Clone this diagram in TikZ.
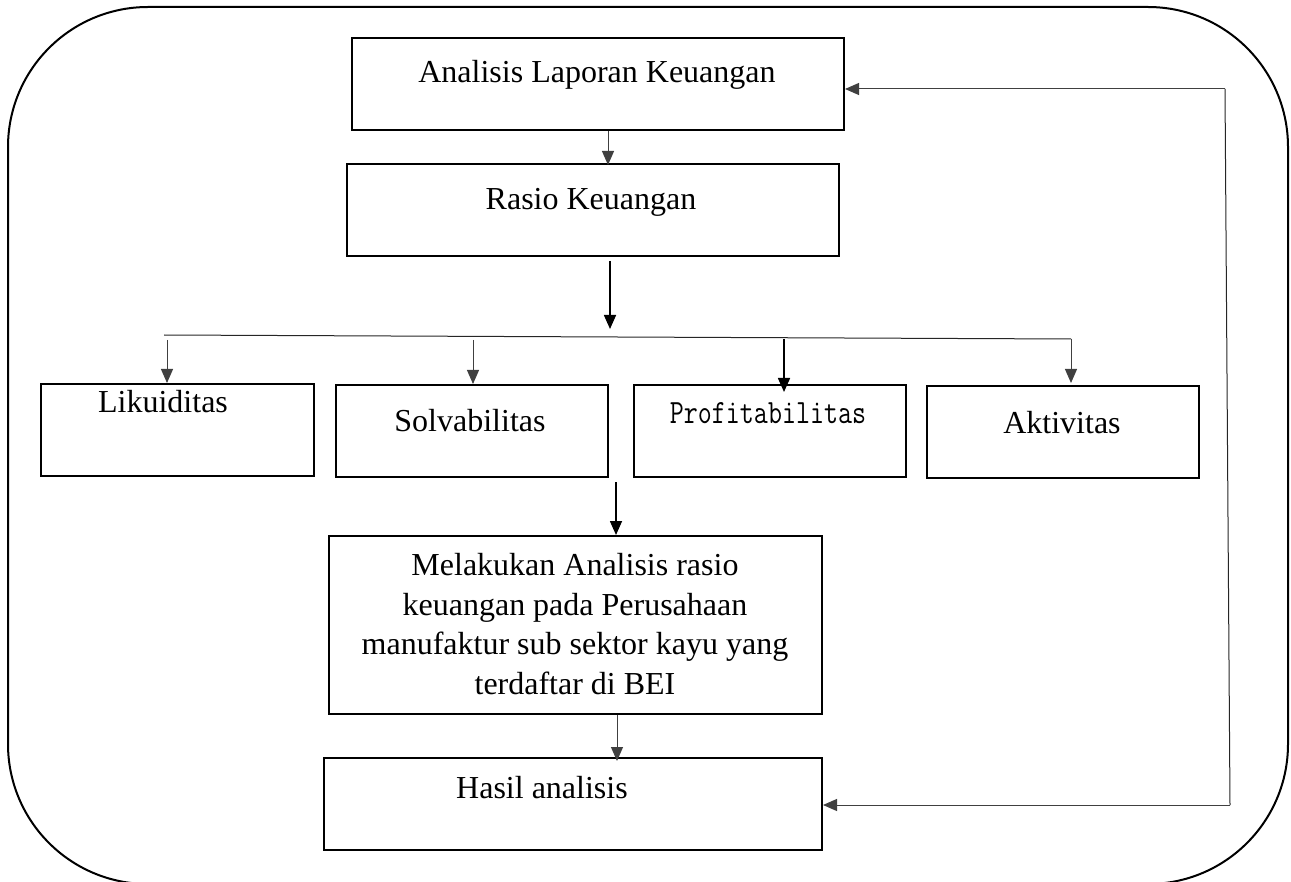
\documentclass[tikz,border=0pt]{standalone}
\usepackage{fontspec}
\usepackage{graphicx}
\setmainfont{Liberation Serif}
\usetikzlibrary{arrows.meta,calc}
\begin{document}
\begin{tikzpicture}[x=0.5pt,y=-0.5pt,
  box/.style={draw,line width=1pt,inner sep=0pt},
  txt/.style={anchor=base,inner sep=0pt,font=\fontsize{16pt}{19.7pt}\selectfont},
  arr/.style={-{Triangle[width=6pt,length=7pt]},line width=0.5pt,black!75},
  barr/.style={-{Triangle[width=6pt,length=7pt]},line width=0.8pt,black},
  thin line/.style={line width=0.5pt,black!85}]
\useasboundingbox (0,0) rectangle (1291,882);
\clip (0,0) rectangle (1291,882);
% outer frame
\draw[line width=1pt,rounded corners=70pt] (8,7) rectangle (1288,884);
% boxes
\node[box,minimum width=246pt,minimum height=46pt] (b1) at (598,84) {};
\node[box,minimum width=246pt,minimum height=46pt] (b2) at (593,210) {};
\node[box,minimum width=136.5pt,minimum height=46pt] (L) at (177.5,430) {};
\node[box,minimum width=136pt,minimum height=46pt] (S) at (472,431) {};
\node[box,minimum width=136pt,minimum height=46pt] (P) at (770,431) {};
\node[box,minimum width=136pt,minimum height=46pt] (A) at (1063,432) {};
\node[box,minimum width=246.5pt,minimum height=89pt] (M) at (575.5,625) {};
\node[box,minimum width=249pt,minimum height=46pt] (H) at (573,804) {};
% texts
\node[txt] (t1) at (597,83) {Analisis Laporan Keuangan};
\node[txt] (t2) at (591,210) {Rasio Keuangan};
\node[txt] (tL) at (163,413) {Likuiditas};
\node[txt] (tS) at (470,431) {Solvabilitas};
\node[txt] (tP) at (768,423) {\scalebox{1}[1.25]{\ttfamily\fontsize{13.6pt}{16pt}\selectfont Profitabilitas}};
\node[txt] (tA) at (1062,433) {Aktivitas};
\node[txt,anchor=center,align=center] (tM) at (575,624) {Melakukan Analisis rasio\\keuangan pada Perusahaan\\manufaktur sub sektor kayu yang\\terdaftar di BEI};
\node[txt] (tH) at (542,798) {Hasil analisis};
% coordinates
\coordinate (a1) at (608,0);
\coordinate (j0) at (610,261);
\coordinate (j1) at (610,329);
\coordinate (bl) at (164,335);
\coordinate (br) at (1071,339);
\coordinate (dL) at (167,340);
\coordinate (dS) at (473,340);
\coordinate (dP) at (784,339);
\coordinate (dA) at (1071,339);
\coordinate (m0) at (616,482);
\coordinate (mh) at (617,0);
\coordinate (fb1) at (1230,805);
\coordinate (fb2) at (1225,89);
% connectors
\draw[arr] (b1.south -| a1) -- ($(b2.north -| a1)+(0,2)$);
\draw[barr] (j0) -- (j1);
\draw[thin line] (bl) -- (br);
\draw[arr] (dL) -- (L.north -| dL);
\draw[arr] (dS) -- (S.north -| dS);
\draw[barr] (dP) -- ($(P.north -| dP)+(0,8)$);
\draw[arr] (dA) -- ($(A.north -| dA)+(0,-2)$);
\draw[barr] (m0) -- (M.north -| m0);
\draw[arr] (M.south -| mh) -- ($(H.north -| mh)+(0,4)$);
\draw[thin line] (fb1) -- (fb2);
\draw[arr] (fb1) -- (H.east |- fb1);
\draw[arr] (fb2) -- (b1.east |- fb2);
\end{tikzpicture}
\end{document}
